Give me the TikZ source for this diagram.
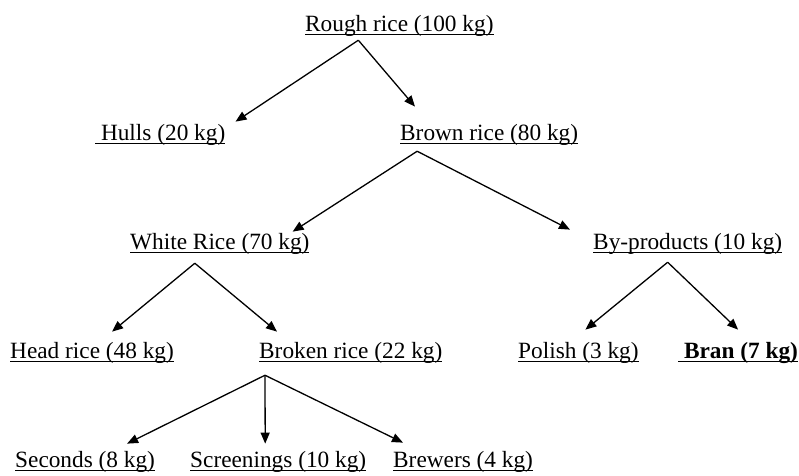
\documentclass[tikz,border=0pt]{standalone}
\usepackage{fontspec}
\setmainfont{Liberation Serif}
\usetikzlibrary{arrows.meta}
\newcommand{\undr}[1]{\setbox0=\hbox{#1}\rlap{\rule[-3.6pt]{\wd0}{1pt}}\box0}

\begin{document}
\begin{tikzpicture}[x=1pt,y=-1pt]
	\tikzset{every node/.style={inner sep=0pt,anchor=base west,font=\fontsize{23.3}{28}\selectfont},
		arr/.style={-{Triangle[length=11pt,width=9pt]},line width=1.3pt}}
	\useasboundingbox (0,0) rectangle (799,475);
	\node (rough) at (305,31) {\undr{Rough rice (100 kg)}};
	\node (hulls) at (95,140) {\undr{\ Hulls (20 kg)}};
	\node (brown) at (400,140) {\undr{Brown rice (80 kg)}};
	\node (white) at (130,249) {\undr{White Rice (70 kg)}};
	\node (byprod) at (593,249) {\undr{By-products (10 kg)}};
	\node (head) at (10,358) {\undr{Head rice (48 kg)}};
	\node (broken) at (259,358) {\undr{Broken rice (22 kg)}};
	\node (polish) at (518,358) {\undr{Polish (3 kg)}};
	\node (bran) at (678,358) {\undr{\ \textbf{Bran (7 kg)}}};
	\node (seconds) at (15,467) {\undr{Seconds (8 kg)}};
	\node (screen) at (190,467) {\undr{Screenings (10 kg)}};
	\node (brewers) at (393,467) {\undr{Brewers (4 kg)}};
	\draw [arr] ([xshift=-41pt,yshift=-4pt]rough.south) -- ([xshift=10pt,yshift=2pt]hulls.north east);
	\draw [arr] ([xshift=-41pt,yshift=-4pt]rough.south) -- ([xshift=15pt,yshift=17pt]brown.north west);
	\draw [arr] ([xshift=-72pt,yshift=-6pt]brown.south) -- ([xshift=-17pt,yshift=1pt]white.north east);
	\draw [arr] ([xshift=-72pt,yshift=-6pt]brown.south) -- ([xshift=-23pt,yshift=3pt]byprod.north west);
	\draw [arr] ([xshift=-25pt,yshift=-9pt]white.south) -- ([xshift=20pt,yshift=10pt]head.north);
	\draw [arr] ([xshift=-25pt,yshift=-9pt]white.south) -- ([xshift=18pt,yshift=10pt]broken.north west);
	\draw [arr] ([xshift=-20pt,yshift=-8pt]byprod.south) -- ([xshift=7pt,yshift=12pt]polish.north);
	\draw [arr] ([xshift=-20pt,yshift=-8pt]byprod.south) -- ([yshift=12pt]bran.north);
	\draw [arr] ([xshift=6pt,yshift=-12pt]broken.south west) -- ([xshift=42pt,yshift=7pt]seconds.north);
	\draw [arr] ([xshift=6pt,yshift=-12pt]broken.south west) -- ([xshift=-13pt,yshift=7pt]screen.north);
	\draw [arr] ([xshift=6pt,yshift=-12pt]broken.south west) -- ([xshift=10pt,yshift=8pt]brewers.north west);
\end{tikzpicture}
\end{document}
